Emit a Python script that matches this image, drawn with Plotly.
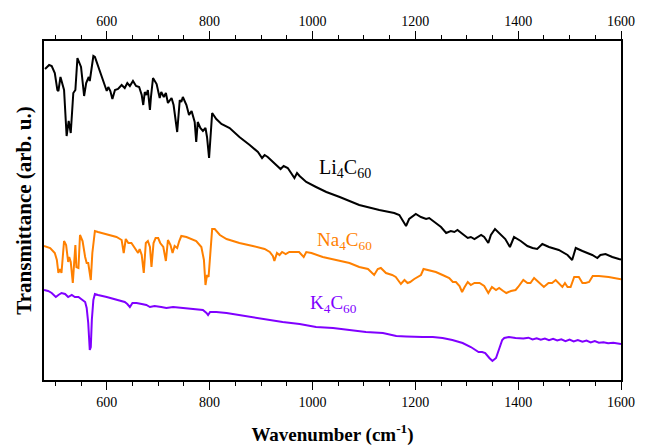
import plotly.graph_objects as go

# Wavenumber (cm^-1) and transmittance (arb. u.)
li_wn = [480, 488, 493, 499, 504, 506, 510, 515, 517, 522, 526, 530, 535, 539, 543, 550, 556, 560, 565, 567,
         574, 577, 587, 596, 600, 603, 607, 611, 616, 622, 629, 635, 640, 645, 651, 657, 663, 668, 671, 674,
         677, 680, 684, 686, 690, 697, 703, 706, 711, 715, 719, 726, 730, 737, 742, 745, 748, 755, 760, 765,
         771, 774, 777, 782, 787, 792, 795, 799, 805, 813, 823, 839, 858, 878, 894, 902, 907, 913, 926, 938,
         944, 952, 965, 970, 975, 988, 1007, 1027, 1053, 1062, 1091, 1130, 1159, 1169, 1175, 1182, 1188, 1201,
         1211, 1221, 1227, 1240, 1250, 1260, 1269, 1276, 1282, 1292, 1302, 1308, 1315, 1328, 1334, 1342, 1347,
         1355, 1363, 1375, 1384, 1392, 1405, 1418, 1428, 1437, 1447, 1460, 1479, 1496, 1505, 1512, 1525, 1544,
         1554, 1560, 1570, 1583, 1596, 1600]
li_t = [311, 315, 314, 307, 290, 289, 303, 293, 290, 244, 259, 247, 287, 290, 322, 313, 284, 297, 303, 299,
        324, 323, 308, 295, 289, 293, 289, 281, 290, 291, 295, 292, 297, 294, 299, 294, 293, 285, 275, 288,
        285, 290, 270, 283, 302, 296, 282, 288, 283, 287, 277, 282, 275, 248, 280, 278, 283, 275, 265, 269,
        258, 238, 258, 252, 249, 252, 243, 222, 267, 261, 256, 252, 243, 235, 228, 222, 225, 223, 217, 211,
        214, 212, 202, 207, 204, 198, 193, 188, 183, 181, 175, 170, 167, 165, 160, 154, 161, 166,
        163, 161, 162, 157, 153, 147, 149, 148, 150, 146, 142, 143, 141, 145, 143, 137, 145,
        151, 147, 141, 133, 143, 139, 134, 132, 131, 136, 133, 130, 125, 120, 132, 129, 125,
        122, 125, 126, 123, 121, 120.5]

na_wn = [478, 490, 499, 503, 506, 509, 512, 517, 521, 525, 527, 530, 534, 537, 539, 541, 545, 548, 553, 558,
         561, 564, 569, 572, 577, 583, 600, 619, 629, 633, 637, 642, 648, 655, 661, 664, 668, 672, 676, 680,
         684, 687, 691, 695, 700, 704, 710, 715, 719, 724, 728, 732, 737, 741, 745, 755, 774, 784, 789, 792,
         795, 798, 802, 805, 810, 820, 833, 858, 884, 907, 917, 923, 926, 931, 936, 941, 948, 955, 965, 974,
         983, 988, 998, 1020, 1046, 1072, 1091, 1108, 1120, 1127, 1133, 1143, 1155, 1162, 1172, 1179, 1185,
         1190, 1198, 1205, 1211, 1216, 1224, 1240, 1253, 1266, 1273, 1279, 1286, 1291, 1296, 1302, 1308, 1315,
         1325, 1334, 1342, 1349, 1357, 1363, 1371, 1377, 1386, 1395, 1400, 1410, 1418, 1424, 1431, 1441, 1450,
         1459, 1466, 1473, 1479, 1486, 1491, 1496, 1502, 1509, 1518, 1525, 1531, 1538, 1545, 1557, 1576, 1596,
         1600]
na_t = [134, 132, 127, 120, 107, 111, 107, 139, 135, 118, 123, 118, 97, 117, 135, 113, 112, 145, 139, 123,
        117, 117, 100, 127, 149, 148, 146, 143, 140, 127, 141, 137, 137, 132, 127, 131, 125, 107, 137, 139,
        133, 113, 137, 142, 142, 137, 133, 119, 140, 135, 127, 134, 132, 139, 144, 143, 139, 133, 120, 95,
        105, 103, 127, 151, 151, 145, 141, 137, 134, 131, 128, 124, 119, 127, 125, 128, 126, 128, 128, 128,
        123, 128, 127, 123, 120, 117, 113, 111, 105, 111, 112, 107, 105, 103, 96, 100, 97,
        98, 101, 103, 105, 111, 110, 108, 105, 102, 98, 98, 94, 88, 93, 98, 95, 97,
        97, 94, 87, 93, 90, 92, 89, 87, 89, 90, 93, 100, 97, 97, 102, 97, 93,
        97, 97, 100, 97, 93, 97, 93, 93, 103, 103, 97, 97, 98, 104, 104, 103, 101,
        100.8]

k_wn = [478, 486, 493, 501, 506, 512, 519, 525, 532, 538, 545, 551, 558, 561, 564, 567, 569, 571, 574, 577,
        583, 600, 619, 635, 640, 645, 650, 658, 668, 677, 684, 693, 706, 716, 729, 748, 768, 787, 794, 797,
        801, 813, 833, 845, 878, 910, 942, 975, 1007, 1040, 1072, 1104, 1137, 1150, 1163, 1182, 1201, 1214,
        1234, 1253, 1272, 1292, 1308, 1323, 1330, 1336, 1344, 1350, 1357, 1363, 1369, 1373, 1382, 1395, 1410,
        1420, 1428, 1436, 1444, 1452, 1460, 1468, 1476, 1484, 1492, 1500, 1508, 1516, 1525, 1533, 1541, 1549,
        1557, 1566, 1575, 1585, 1596, 1600]
k_t = [90, 89, 87, 83, 85, 87, 86, 83, 85, 83, 83, 81, 78, 72, 57, 30, 33, 60, 80, 86,
       85, 83, 80, 78, 76, 73, 77, 77, 76, 75, 73, 74, 73, 72, 73, 72, 71, 70, 67, 65,
       68, 68, 67, 66, 63, 61, 58, 56, 53, 52, 50, 48, 47, 45.5, 44, 43.5, 43, 43,
       43, 42, 40, 37, 33, 28, 28, 27, 22, 19, 22, 32, 40, 42, 43, 42, 41.5,
       42.3, 40.5, 41.8, 40.2, 41.4, 39.8, 41.2, 39.5, 40.6, 38.8, 40.4, 38.6, 39.9, 38.2, 39.4, 37.6, 38.9,
       37.3, 37.8, 36.8, 37.2, 36.2, 36]

tick_vals = [600, 800, 1000, 1200, 1400, 1600]
tick_text = ["600", "800", "1000", "1200", "1400", "1600"]

FONT = "Liberation Serif"

fig = go.Figure()
fig.add_trace(go.Scatter(x=li_wn, y=li_t, mode="lines", line=dict(color="#000000", width=2), showlegend=False))
fig.add_trace(go.Scatter(x=na_wn, y=na_t, mode="lines", line=dict(color="#FF8000", width=2), showlegend=False))
fig.add_trace(go.Scatter(x=k_wn, y=k_t, mode="lines", line=dict(color="#8000FF", width=2), showlegend=False))
# invisible helper trace so the top axis is drawn
fig.add_trace(go.Scatter(x=li_wn, y=li_t, xaxis="x2", mode="lines", opacity=0, hoverinfo="skip", showlegend=False))

axis_common = dict(
    range=[478, 1600], tickvals=tick_vals, ticktext=tick_text, ticks="outside", ticklen=8, tickwidth=1.3,
    tickcolor="black", showline=True, linecolor="black", linewidth=1.5, showgrid=False, zeroline=False,
    tickfont=dict(family=FONT, size=14, color="black"), automargin=False,
    minor=dict(ticks="outside", ticklen=4.5, tickwidth=1.2, tickcolor="black", tick0=500, dtick=50, showgrid=False),
)

# the page body adds an 8px offset, so the figure is sized 8px smaller
fig.update_layout(
    width=639, height=439,
    margin=dict(l=36, r=26, t=33, b=67),
    paper_bgcolor="white", plot_bgcolor="white",
    xaxis=dict(**axis_common,
               title=dict(text="<b>Wavenumber (cm<sup>-1</sup>)</b>", font=dict(family=FONT, size=19, color="black"),
                          standoff=19)),
    xaxis2=dict(**axis_common, overlaying="x", side="top"),
    yaxis=dict(range=[0, 339], showline=True, mirror=True, linecolor="black", linewidth=1.5,
               showticklabels=False, ticks="", showgrid=False, zeroline=False, automargin=False,
               title=dict(text="<b>Transmittance (arb. u.)</b>", font=dict(family=FONT, size=21, color="black"),
                          standoff=5)),
    annotations=[
        dict(x=1064, y=212, text="Li<sub>4</sub>C<sub>60</sub>", showarrow=False,
             font=dict(family=FONT, size=20, color="#000000")),
        dict(x=1062, y=139, text="Na<sub>4</sub>C<sub>60</sub>", showarrow=False,
             font=dict(family=FONT, size=19, color="#FF8000")),
        dict(x=1040, y=76, text="K<sub>4</sub>C<sub>60</sub>", showarrow=False,
             font=dict(family=FONT, size=19, color="#8000FF")),
    ],
)

fig.write_html("out.html")
